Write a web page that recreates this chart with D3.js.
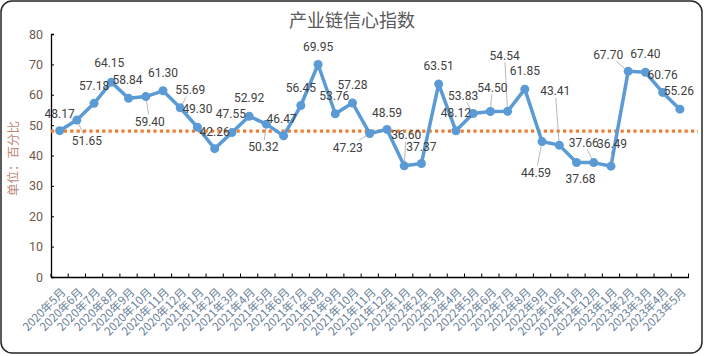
<!DOCTYPE html>
<html><head><meta charset="utf-8">
<script src="https://cdn.jsdelivr.net/npm/d3@7/dist/d3.min.js"></script>
<style>html,body{margin:0;padding:0;background:#fff;}svg{display:block;font-family:"Microsoft YaHei","Noto Sans CJK SC",sans-serif;}</style>
</head><body>
<svg id="c" width="704" height="356"></svg>
<script>
const categories = ["2020年5月","2020年6月","2020年7月","2020年8月","2020年9月","2020年10月","2020年11月","2020年12月",
"2021年1月","2021年2月","2021年3月","2021年4月","2021年5月","2021年6月","2021年7月","2021年8月","2021年9月","2021年10月","2021年11月","2021年12月",
"2022年1月","2022年2月","2022年3月","2022年4月","2022年5月","2022年6月","2022年7月","2022年8月","2022年9月","2022年10月","2022年11月","2022年12月",
"2023年1月","2023年2月","2023年3月","2023年4月","2023年5月"];
const confidence = [48.17,51.65,57.18,64.15,58.84,59.40,61.30,55.69,49.30,42.26,47.55,52.92,50.32,46.47,56.45,69.95,53.76,57.28,47.23,48.59,
36.60,37.37,63.51,48.12,53.83,54.50,54.54,61.85,44.59,43.41,37.68,37.66,36.49,67.70,67.40,60.76,55.26];
const referenceLevel = 48;
const yTicks = [0,10,20,30,40,50,60,70,80];
const title = "产业链信心指数";
const yTitle = "单位：百分比";
// label offsets (layout only)
const labelOffsets = [[0,-17],[10,21],[0,-18],[-2,-19],[-1,-18],[4,25],[0,-18],[10,-18],[0,-18],[0,-17],[-1,-19],[0,-18],[-3,23],[-2,-17],
[0,-18],[0,-18],[-1,-18],[0,-18],[-22,14],[0,-17],[2,-31],[0,-17],[0,-18],[0,-18],[-10,-18],[2,-24],[-3,-56],[0,-18],[-6,31],[-4,-54],
[4,16],[-10,-20],[1,-22],[-20,-17],[0,-18],[0,-18],[-1,-18]];

const svg = d3.select("#c");
svg.append("rect").attr("x",1).attr("y",1).attr("width",701).attr("height",352).attr("rx",11)
  .attr("fill","#fff").attr("stroke","#262626").attr("stroke-width",1.5);

const x0 = 51, x1 = 688.5, yTop = 34, yBot = 277;
const x = d3.scaleBand().domain(categories).range([x0,x1]);
const y = d3.scaleLinear().domain([0,80]).range([yBot,yTop]);
const cx = d => x(d) + x.bandwidth()/2;

svg.append("text").attr("x",352).attr("y",27).attr("text-anchor","middle")
  .attr("font-size",18).attr("fill","#595959").text(title);

// y axis
const ya = svg.append("g").attr("transform",`translate(${x0},0)`)
  .call(d3.axisLeft(y).tickValues(yTicks).tickSize(-3).tickPadding(8).tickFormat(d3.format("d")));
ya.select(".domain").attr("stroke","#000").attr("stroke-width",1.3);
ya.selectAll(".tick line").attr("stroke","#000");
ya.selectAll(".tick text").attr("font-size",12.5).attr("fill","#6e5a4c").attr("font-family","Roboto, sans-serif");

// x axis
const xa = svg.append("g").attr("transform",`translate(0,${yBot})`)
  .call(d3.axisBottom(x).tickSize(0).tickFormat(""));
xa.select(".domain").attr("stroke","#000").attr("stroke-width",1.3);
const tickPos = d3.range(categories.length+1).map(i => x0 + i*x.bandwidth());
xa.selectAll("line.tk").data(tickPos).join("line").attr("class","tk")
  .attr("x1",d=>d).attr("x2",d=>d).attr("y1",0).attr("y2",-3.5).attr("stroke","#000");
svg.append("g").selectAll("text").data(categories).join("text")
  .attr("transform",d=>`translate(${cx(d)+4},${yBot+13}) rotate(-45)`)
  .attr("text-anchor","end").attr("dy","0.35em").attr("font-size",11.5).attr("fill","#6a7f99").text(d=>d);

// y title
svg.append("text").attr("transform",`translate(14,${(yTop+yBot)/2+3}) rotate(-90)`)
  .attr("text-anchor","middle").attr("dy","0.35em").attr("font-size",12.5).attr("fill","#c08a78").text(yTitle);

// reference line
svg.append("line").attr("x1",x0).attr("x2",698).attr("y1",y(referenceLevel)).attr("y2",y(referenceLevel))
  .attr("stroke","#ED7D31").attr("stroke-width",3.2).attr("stroke-dasharray","3.2,3.2");

// series line
const pts = categories.map((c,i)=>[cx(c), y(confidence[i])]);
svg.append("path").attr("d",d3.line()(pts)).attr("fill","none").attr("stroke","#5B9BD5")
  .attr("stroke-width",3.5).attr("stroke-linejoin","round");

// leader lines and labels
const lg = svg.append("g");
pts.forEach((p,i)=>{
  const [dx,dy] = labelOffsets[i];
  const lx = p[0]+dx, ly = p[1]+dy;
  if (Math.hypot(dx,dy) > 22 || Math.abs(dx) >= 9) {
    const hw = 16, hh = 7;
    const t = Math.min(Math.abs(hw/(dx||1e-6)), Math.abs(hh/(dy||1e-6)));
    const ex = lx - dx*t, ey = ly - dy*t;
    lg.append("line").attr("x1",p[0]).attr("y1",p[1]).attr("x2",ex).attr("y2",ey)
      .attr("stroke","#a6a6a6").attr("stroke-width",0.8);
  }
});
svg.append("g").selectAll("circle").data(pts).join("circle")
  .attr("cx",d=>d[0]).attr("cy",d=>d[1]).attr("r",4.5).attr("fill","#5B9BD5");
svg.append("g").selectAll("text").data(pts).join("text")
  .attr("x",(d,i)=>d[0]+labelOffsets[i][0]).attr("y",(d,i)=>d[1]+labelOffsets[i][1])
  .attr("dy","0.35em").attr("text-anchor","middle").attr("font-size",12).attr("fill","#404040")
  .attr("font-family","Roboto, sans-serif")
  .text((d,i)=>confidence[i].toFixed(2));
</script>
</body></html>
